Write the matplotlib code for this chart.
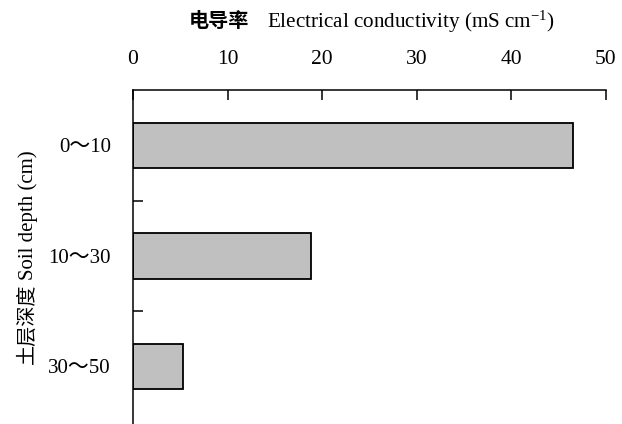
import matplotlib.pyplot as plt

plt.rcParams["mathtext.fontset"] = "custom"
plt.rcParams["mathtext.rm"] = "Liberation Serif"
plt.rcParams["mathtext.it"] = "Liberation Serif:italic"

SERIF = ["Liberation Serif", "Noto Sans CJK SC"]

depths = ["0～10", "10～30", "30～50"]
conductivity = [46.5, 18.8, 5.3]
xticks = [0, 10, 20, 30, 40, 50]

fig = plt.figure(figsize=(6.22, 4.24), dpi=100)
ax = fig.add_axes([133 / 622, 0.0, (606 - 133) / 622, 1 - 90 / 424])

pos = list(range(len(depths)))
ax.barh(pos, conductivity, height=0.41, color="#c0c0c0", edgecolor="black", linewidth=1.3)

ax.set_xlim(0, 50)
ax.set_ylim(2.52, -0.5)
ax.xaxis.tick_top()
ax.set_xticks(xticks)
ax.set_xticklabels([str(t) for t in xticks], family=SERIF, fontsize=15.5)
ax.tick_params(axis="x", direction="in", length=7, width=1.1, pad=15)

# category labels without ticks, boundary ticks on the spine
ax.set_yticks(pos)
ax.set_yticklabels(depths, family=SERIF, fontsize=15)
ax.set_yticks([0.5, 1.5], minor=True)
ax.tick_params(axis="y", which="major", length=0, pad=16)
ax.tick_params(axis="y", which="minor", direction="in", length=7, width=1.1)

for side in ["right", "bottom"]:
	ax.spines[side].set_visible(False)
for side in ["left", "top"]:
	ax.spines[side].set_linewidth(1.1)

# y label: Chinese and English parts set separately
lx = 28 / 622
fig.text(lx, 1 - 280 / 424, "Soil depth (cm)", family="Liberation Serif", fontsize=15,
	rotation=90, ha="center", va="bottom")
fig.text(lx, 1 - 284 / 424, "土层深度", family=SERIF, fontsize=14.5,
	rotation=90, ha="center", va="top")

ty = 1 - 22 / 424
fig.text(249 / 622, ty, "电导率", family=SERIF, fontsize=14.5, fontweight="bold",
	ha="right", va="center")
fig.text(267 / 622, ty, "Electrical conductivity (mS cm$^{-1}$)", fontsize=15.2,
	family="Liberation Serif", ha="left", va="center")

fig.savefig("out.png", dpi=100)
